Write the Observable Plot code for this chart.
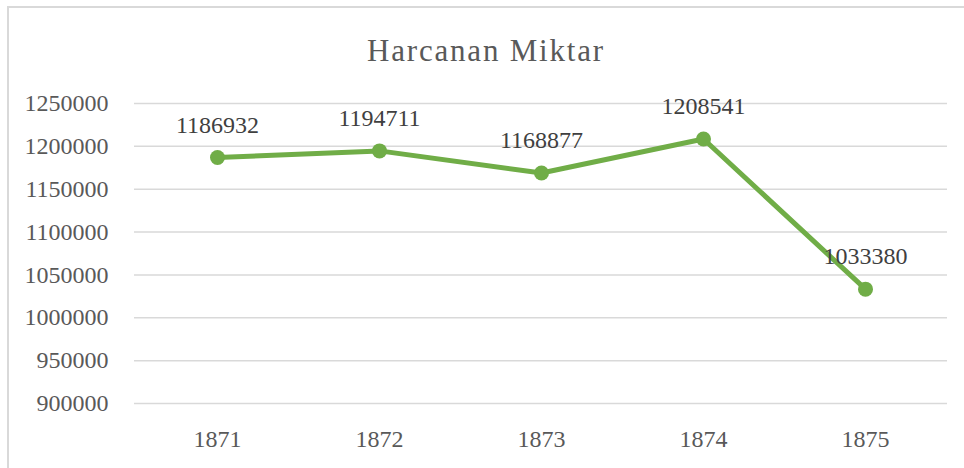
<!DOCTYPE html>
<html>
<head>
<meta charset="utf-8">
<script src="https://cdn.jsdelivr.net/npm/d3@7"></script>
<script src="https://cdn.jsdelivr.net/npm/@observablehq/plot@0.6"></script>
<style>
  html, body { margin: 0; padding: 0; background: #fff; }
  #wrap { position: relative; width: 964px; height: 468px; overflow: hidden; }
  #box { position: absolute; left: 7px; top: 6px; width: 1000px; height: 500px;
         border-left: 2px solid #d9d9d9; border-top: 2px solid #d9d9d9; box-sizing: border-box; }
  #title { position: absolute; left: 7px; top: 0; width: 958px; height: 102px; line-height: 102px;
           text-align: center; font-family: "Liberation Serif", serif; font-size: 31px;
           letter-spacing: 1.8px; color: #595959; }
  #chart { position: absolute; left: 0; top: 0; }
</style>
</head>
<body>
<div id="wrap">
  <div id="box"></div>
  <div id="chart"></div>
  <div id="title">Harcanan Miktar</div>
</div>
<script>
const title = "Harcanan Miktar";
const years = ["1871", "1872", "1873", "1874", "1875"];
const amounts = [1186932, 1194711, 1168877, 1208541, 1033380];
const yTicks = [900000, 950000, 1000000, 1050000, 1100000, 1150000, 1200000, 1250000];

const data = years.map((y, i) => ({year: y, value: amounts[i]}));
const green = "#70AD47";

const chart = Plot.plot({
  width: 964,
  height: 468,
  marginLeft: 134,
  marginRight: 17,
  marginTop: 103,
  marginBottom: 65,
  style: {fontFamily: "'Liberation Serif', serif", fontSize: "24px", background: "transparent", overflow: "visible"},
  x: {type: "point", domain: years, padding: 0.5},
  y: {domain: [900000, 1250000]},
  marks: [
    Plot.gridY(yTicks, {stroke: "#d9d9d9", strokeOpacity: 1, strokeWidth: 1.5}),
    Plot.axisY(yTicks, {tickSize: 0, tickPadding: 26, tickFormat: d => String(d), fill: "#595959", label: null}),
    Plot.axisX(years, {tickSize: 0, tickPadding: 26, fill: "#595959", label: null}),
    Plot.line(data, {x: "year", y: "value", stroke: green, strokeWidth: 5, curve: "linear"}),
    Plot.dot(data, {x: "year", y: "value", r: 7.5, fill: green, stroke: "none"}),
    Plot.text(data, {x: "year", y: "value", text: d => String(d.value), lineAnchor: "bottom", dy: -25, fill: "#404040", fontSize: 24})
  ]
});
document.getElementById("chart").appendChild(chart);
</script>
</body>
</html>
